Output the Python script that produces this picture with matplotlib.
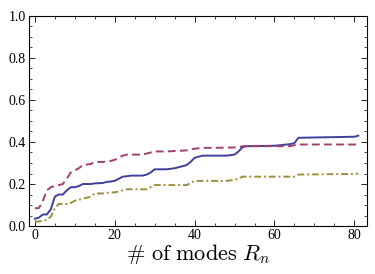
import numpy as np
import matplotlib
matplotlib.use("Agg")
import matplotlib.pyplot as plt
from matplotlib.ticker import MultipleLocator

# fraction vs number of modes
modes = [0, 1, 2, 3, 4, 5, 6, 7, 8, 9, 10, 11, 12, 14, 15, 17, 18, 19, 20, 21, 22, 23, 24,
         27, 28, 29, 30, 33, 35, 36, 38, 39, 40, 41, 42, 48, 50, 51, 52, 53, 60, 64, 65, 66, 80, 81]
blue = [0.035, 0.04, 0.055, 0.055, 0.08, 0.14, 0.15, 0.15, 0.17, 0.185, 0.185, 0.19, 0.2, 0.2,
        0.203, 0.205, 0.21, 0.212, 0.215, 0.225, 0.235, 0.237, 0.24, 0.24, 0.245, 0.255, 0.27,
        0.27, 0.275, 0.28, 0.29, 0.305, 0.325, 0.33, 0.335, 0.335, 0.34, 0.355, 0.375, 0.38,
        0.382, 0.39, 0.395, 0.42, 0.425, 0.43]
magenta = [0.085, 0.085, 0.12, 0.17, 0.185, 0.19, 0.195, 0.2, 0.225, 0.255, 0.265, 0.275, 0.29,
           0.295, 0.305, 0.305, 0.307, 0.31, 0.315, 0.325, 0.335, 0.34, 0.34, 0.34, 0.345, 0.35,
           0.355, 0.355, 0.357, 0.358, 0.36, 0.365, 0.368, 0.37, 0.372, 0.373, 0.374, 0.375, 0.38,
           0.38, 0.38, 0.38, 0.385, 0.388, 0.388, 0.388]
olive = [0.02, 0.022, 0.025, 0.03, 0.045, 0.085, 0.105, 0.105, 0.105, 0.11, 0.12, 0.125, 0.13,
         0.14, 0.155, 0.155, 0.158, 0.16, 0.16, 0.165, 0.17, 0.175, 0.175, 0.175, 0.175, 0.185,
         0.195, 0.195, 0.195, 0.195, 0.195, 0.205, 0.215, 0.215, 0.215, 0.215, 0.22, 0.225, 0.235,
         0.235, 0.235, 0.235, 0.235, 0.245, 0.248, 0.25]

plt.rcParams['font.family'] = ['Liberation Serif', 'DejaVu Serif']
plt.rcParams['mathtext.fontset'] = 'cm'

fig = plt.figure(figsize=(3.75, 2.74), dpi=100)
ax = fig.add_axes([0.077, 0.175, 0.902, 0.767])

ax.plot(modes, blue, color='#3f3f9c', lw=1.4)
ax.plot(modes, magenta, color='#a0406e', lw=1.4, dashes=(4, 2.2))
ax.plot(modes, olive, color='#9a8f3c', lw=1.4, dashes=(3.5, 1.5, 1, 1.5))

ax.set_xlim(-1.5, 83.2)
ax.set_ylim(0, 1.0)
ax.xaxis.set_major_locator(MultipleLocator(20))
ax.xaxis.set_minor_locator(MultipleLocator(5))
ax.yaxis.set_major_locator(MultipleLocator(0.2))
ax.yaxis.set_minor_locator(MultipleLocator(0.05))
ax.yaxis.set_major_formatter(matplotlib.ticker.FuncFormatter(lambda v, p: f"{v:.1f}"))
ax.tick_params(which='both', direction='in', top=True, right=True, labelsize=10, pad=2)
ax.tick_params(which='major', length=4, width=0.6)
ax.tick_params(which='minor', length=2, width=0.5)
for s in ax.spines.values():
    s.set_linewidth(0.8)

ax.set_xlabel(r"$\#\ \mathrm{of\ modes}\ R_n$", fontsize=16, labelpad=0)

fig.savefig("out.png", dpi=100)
